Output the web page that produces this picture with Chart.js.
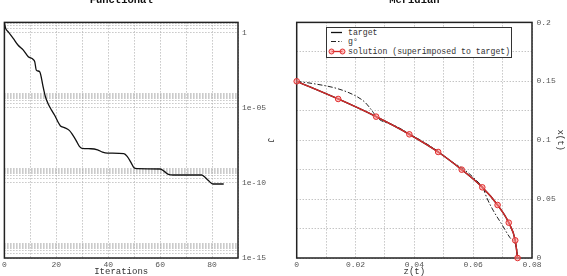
<!DOCTYPE html>
<html>
<head>
<meta charset="utf-8">
<script src="https://cdn.jsdelivr.net/npm/chart.js@4.4.1/dist/chart.umd.min.js"></script>
<style>
    body { margin: 0; background: #fff; }
    #page { position: relative; width: 567px; height: 276px; overflow: hidden; background: #fff; }
    canvas { position: absolute; top: -10px; }
    #functional { left: 0; }
    #meridian { left: 283px; }
    #legend {
        position: absolute; left: 326px; top: 27px; width: 184px; height: 29px;
        border: 1px solid #333; background: #fff;
        font: 8.2px "Liberation Mono", "Courier New", monospace; color: #333;
    }
    #legend .row { position: absolute; left: 0; height: 9px; line-height: 9px; white-space: nowrap; }
    #legend svg { position: absolute; left: 0; top: 0; }
    #legend span { position: absolute; left: 21px; top: 0; }
</style>
</head>
<body>
<div id="page">
    <canvas id="functional" width="283" height="288"></canvas>
    <canvas id="meridian" width="284" height="288"></canvas>
    <div id="legend"></div>
</div>
<script>
// Functional history
const iterations = [0, 0.5, 1.5, 3.4, 5.3, 7.3, 9.2, 11.1, 11.7, 12.3, 13.6, 14.9, 15.8, 16.8, 18.1, 19.3,
    20.6, 21.6, 23.1, 25, 26.3, 27.6, 28.9, 29.9, 33.3, 35.9, 37.8, 39.7, 46, 47.3, 48.9, 49.8, 51.1,
    60, 61.6, 63.2, 65.1, 76, 77.2, 78.5, 80.4, 84.5];
const jValues = [4.6, 1.95, 1.17, 0.43, 0.15, 0.071, 0.026, 0.017, 0.0117, 0.0033, 0.0026, 2.6e-4, 5.6e-5,
    2.0e-5, 7.4e-6, 3.4e-6, 1.2e-6, 6.3e-7, 4.9e-7, 3.2e-7, 1.6e-7, 6.9e-8, 2.7e-8, 2.0e-8, 1.9e-8, 1.6e-8,
    1.15e-8, 9.8e-9, 8.9e-9, 5.9e-9, 2.1e-9, 1.1e-9, 8.9e-10, 8.5e-10, 5.9e-10, 3.7e-10, 3.4e-10, 3.4e-10,
    2.5e-10, 1.5e-10, 8.5e-11, 8.5e-11];
const jMajorTicks = [1e-15, 1e-10, 1e-5, 1];
const jMajorLabels = ['1e-15', '1e-10', '1e-05', '1'];
const jMinorFactors = [2, 3, 4, 5, 6, 7, 8, 9];

// Meridian curves
const meridianLabels = ['target', 'g°', 'solution (superimposed to target)'];
const solutionZ = [0, 0.0141, 0.027, 0.0383, 0.0481, 0.0561, 0.0631, 0.0683, 0.0721, 0.0743, 0.0751];
const solutionX = [0.15, 0.135, 0.12, 0.105, 0.09, 0.075, 0.06, 0.045, 0.03, 0.015, 0];
const targetZ = solutionZ; // solution lies on the target
const targetX = solutionX;
const g0Z = [0, 0.0062, 0.0141, 0.0198, 0.0232, 0.026, 0.0272, 0.0334, 0.0383, 0.0481, 0.0521, 0.0567,
    0.0606, 0.0635, 0.0646, 0.0669, 0.0697, 0.0725, 0.0748, 0.0751];
const g0X = [0.15, 0.1478, 0.1436, 0.1379, 0.1322, 0.1237, 0.1194, 0.1123, 0.1055, 0.0905, 0.0826, 0.0755,
    0.067, 0.0585, 0.0513, 0.04, 0.0287, 0.0173, 0.0074, 0];

const pts = (xs, ys) => xs.map((x, i) => ({ x: x, y: ys[i] }));
const isMultiple = (v, step) => Math.abs(v / step - Math.round(v / step)) < 1e-6;

Chart.defaults.font.family = '"Liberation Mono", "Courier New", monospace';
Chart.defaults.font.size = 8;
Chart.defaults.color = '#555';

// black frame round the plot area
const framePlugin = {
    id: 'frame',
    beforeDatasetsDraw(chart) {
        const a = chart.chartArea;
        const ctx = chart.ctx;
        ctx.save();
        ctx.strokeStyle = '#222';
        ctx.lineWidth = 1.5;
        ctx.strokeRect(a.left, a.top, a.right - a.left, a.bottom - a.top);
        ctx.restore();
    }
};

const gridOpts = { color: '#aaa', drawTicks: false };
const borderOpts = { display: false, dash: [1, 2] };
const titleFont = { size: 10.5, family: '"Liberation Mono", "Courier New", monospace' };

new Chart(document.getElementById('functional'), {
    type: 'line',
    data: {
        datasets: [{
            data: pts(iterations, jValues),
            borderColor: '#111',
            borderWidth: 1.3,
            pointRadius: 0,
            cubicInterpolationMode: 'monotone',
            fill: false
        }]
    },
    options: {
        responsive: false,
        animation: false,
        layout: { padding: { left: 3, right: 0, top: 0, bottom: 0 } },
        plugins: {
            legend: { display: false },
            tooltip: { enabled: false },
            title: { display: true, text: 'Functional', color: '#111', font: titleFont, fullSize: false, padding: { top: 4, bottom: 15.8 } }
        },
        scales: {
            x: {
                type: 'linear', min: 0, max: 90,
                grid: gridOpts, border: borderOpts,
                afterFit: s => { s.height = 20; },
                ticks: { stepSize: 10, autoSkip: false, maxRotation: 0, padding: 2,
                    callback: v => isMultiple(v, 20) ? String(v) : '' },
                title: { display: true, text: 'Iterations', color: '#333', font: { size: 9 }, padding: { top: 0, bottom: 1 } }
            },
            y: {
                type: 'logarithmic', position: 'right', min: 1e-15, max: 5,
                grid: gridOpts, border: borderOpts,
                afterFit: s => { s.width = 45; },
                afterBuildTicks: s => {
                    const vals = [];
                    jMajorTicks.forEach(m => {
                        vals.push(m);
                        jMinorFactors.forEach(f => { if (m * f <= 5) vals.push(m * f); });
                    });
                    s.ticks = vals.map(v => ({ value: v }));
                },
                ticks: { autoSkip: false, padding: 4,
                    callback: v => { const i = jMajorTicks.indexOf(v); return i >= 0 ? jMajorLabels[i] : ''; } },
                title: { display: true, text: 'J', color: '#333', font: { size: 9 }, padding: { top: 7.6, bottom: 0 } }
            }
        }
    },
    plugins: [framePlugin]
});

new Chart(document.getElementById('meridian'), {
    type: 'line',
    data: {
        datasets: [{
            label: meridianLabels[2],
            data: pts(solutionZ, solutionX),
            borderColor: '#d42a2a',
            borderWidth: 1.4,
            pointRadius: 2.8,
            pointBorderWidth: 1,
            pointBorderColor: '#e03030',
            pointBackgroundColor: 'rgba(255,140,140,0.55)',
            cubicInterpolationMode: 'monotone',
            clip: false,
            order: 0
        }, {
            label: meridianLabels[0],
            data: pts(targetZ, targetX),
            borderColor: '#111',
            borderWidth: 1.4,
            pointRadius: 0,
            cubicInterpolationMode: 'monotone',
            order: 2
        }, {
            label: meridianLabels[1],
            data: pts(g0Z, g0X),
            borderColor: '#222',
            borderWidth: 1,
            borderDash: [5, 2, 1.5, 2],
            pointRadius: 0,
            cubicInterpolationMode: 'monotone',
            order: 1
        }]
    },
    options: {
        responsive: false,
        animation: false,
        layout: { padding: { left: 13.7, right: 0, top: 0, bottom: 0 } },
        plugins: {
            legend: { display: false },
            tooltip: { enabled: false },
            title: { display: true, text: 'Meridian', color: '#111', font: titleFont, fullSize: false, padding: { top: 4, bottom: 15.8 } }
        },
        scales: {
            x: {
                type: 'linear', min: 0, max: 0.08,
                grid: gridOpts, border: borderOpts,
                afterFit: s => { s.height = 20; },
                ticks: { stepSize: 0.01, autoSkip: false, maxRotation: 0, padding: 2,
                    callback: v => isMultiple(v, 0.02) ? String(+v.toFixed(2)) : '' },
                title: { display: true, text: 'z(t)', color: '#333', font: { size: 9 }, padding: { top: 0, bottom: 1 } }
            },
            y: {
                type: 'linear', position: 'right', min: 0, max: 0.2,
                grid: gridOpts, border: borderOpts,
                afterFit: s => { s.width = 35; },
                ticks: { stepSize: 0.025, autoSkip: false, padding: 4.5,
                    callback: v => isMultiple(v, 0.05) ? String(+v.toFixed(2)) : '' },
                title: { display: true, text: 'x(t)', color: '#333', font: { size: 9 }, padding: { top: 1.6, bottom: 0 } }
            }
        }
    },
    plugins: [framePlugin]
});

// legend box inside the plot area
const samples = [
    '<line x1="4" y1="4.5" x2="15" y2="4.5" stroke="#111" stroke-width="1.3"/>',
    '<line x1="4" y1="4.5" x2="15" y2="4.5" stroke="#222" stroke-width="1" stroke-dasharray="5,2,1.5,2"/>',
    '<line x1="4.5" y1="4.5" x2="15.5" y2="4.5" stroke="#d42a2a" stroke-width="1.3"/>' +
    '<circle cx="4.5" cy="4.5" r="2.5" fill="rgba(255,140,140,0.55)" stroke="#e03030" stroke-width="1"/>' +
    '<circle cx="15.5" cy="4.5" r="2.5" fill="rgba(255,140,140,0.55)" stroke="#e03030" stroke-width="1"/>'
];
const rowTops = [0.2, 9.2, 18.5];
const legend = document.getElementById('legend');
meridianLabels.forEach((label, i) => {
    const row = document.createElement('div');
    row.className = 'row';
    row.style.top = rowTops[i] + 'px';
    row.innerHTML = `<svg width="20" height="9">${samples[i]}</svg><span></span>`;
    row.querySelector('span').textContent = label;
    legend.appendChild(row);
});
</script>
</body>
</html>
